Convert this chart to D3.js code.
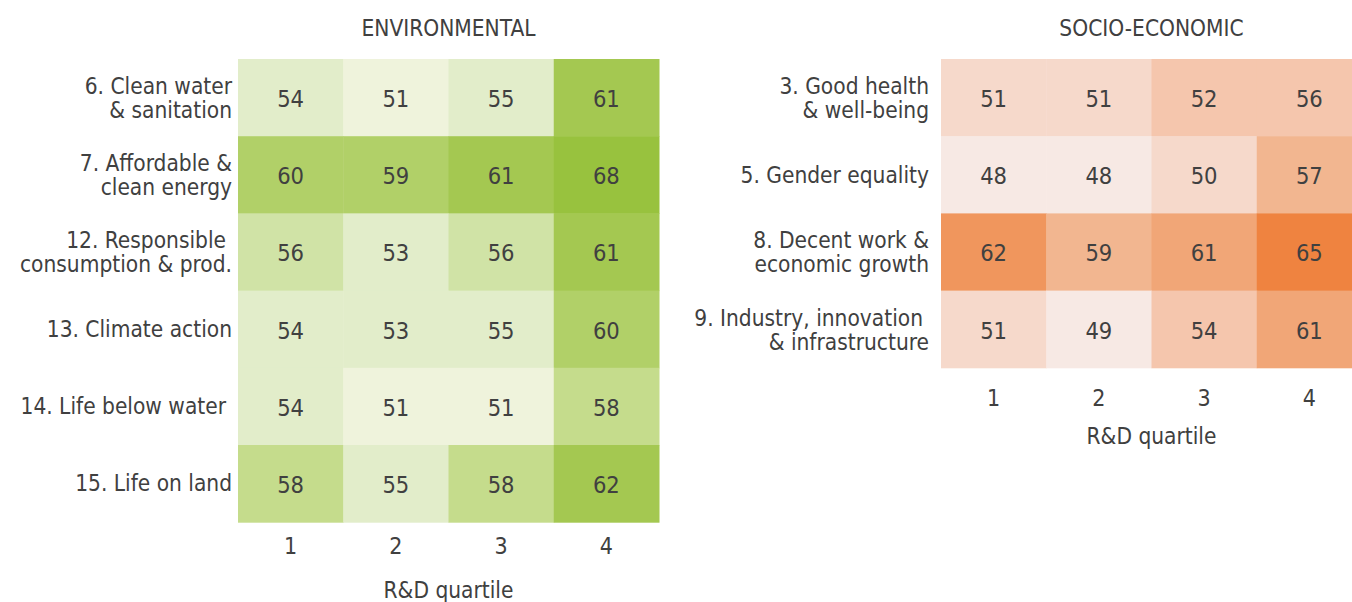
<!DOCTYPE html>
<html>
<head>
<meta charset="utf-8">
<script src="https://cdn.jsdelivr.net/npm/d3@7"></script>
<style>
  body { margin: 0; background: #fff; }
  svg text { font-family: "DejaVu Sans Condensed", "Liberation Sans Narrow", sans-serif; fill: #404040; }
</style>
</head>
<body>
<svg id="chart" width="1352" height="602"></svg>
<script>
// Quartiles of R&D intensity (columns)
const quartiles = ["1", "2", "3", "4"];

// Environmental SDGs
const envGoals = [
  ["6. Clean water", "& sanitation"],
  ["7. Affordable &", "clean energy"],
  ["12. Responsible", "consumption & prod."],
  ["13. Climate action"],
  ["14. Life below water"],
  ["15. Life on land"]
];
const envValues = [
  [54, 51, 55, 61],
  [60, 59, 61, 68],
  [56, 53, 56, 61],
  [54, 53, 55, 60],
  [54, 51, 51, 58],
  [58, 55, 58, 62]
];

// Socio-economic SDGs
const socGoals = [
  ["3. Good health", "& well-being"],
  ["5. Gender equality"],
  ["8. Decent work &", "economic growth"],
  ["9. Industry, innovation", "& infrastructure"]
];
const socValues = [
  [51, 51, 52, 56],
  [48, 48, 50, 57],
  [62, 59, 61, 65],
  [51, 49, 54, 61]
];

// Banded colour scales
const envColor = d3.scaleThreshold()
  .domain([52, 56, 57, 59, 61, 63])
  .range(["#eff3dc", "#e2edca", "#d0e3a6", "#c5dc8c", "#b1d068", "#a4c851", "#98c23e"]);
const socColor = d3.scaleThreshold()
  .domain([50, 52, 57, 60, 62, 64])
  .range(["#f7e9e4", "#f6d9cb", "#f5c6ad", "#f2b690", "#f1a677", "#f0965d", "#ef8340"]);

const svg = d3.select("#chart");
const rowH = 77.2;

function heatmap(opts) {
  const { left, top, width, goals, values, color, title, labelX, labelRows, tickY } = opts;
  const g = svg.append("g");
  const x = d3.scaleBand().domain(quartiles).range([left, left + width]).padding(0);
  const y = d3.scaleBand().domain(d3.range(goals.length)).range([top, top + rowH * goals.length]).padding(0);

  g.append("text")
    .attr("x", left + width / 2).attr("y", 36)
    .attr("text-anchor", "middle")
    .style("font-size", "22.5px")
    .text(title);

  const cells = values.flatMap((row, i) => row.map((v, j) => ({ i, j, v })));
  g.selectAll("rect.cell").data(cells).join("rect")
    .attr("class", "cell")
    .attr("x", d => x(quartiles[d.j]))
    .attr("y", d => y(d.i))
    .attr("width", x.bandwidth() + 0.5)
    .attr("height", y.bandwidth() + 0.5)
    .attr("fill", d => color(d.v));

  g.selectAll("text.val").data(cells).join("text")
    .attr("class", "val")
    .attr("x", d => x(quartiles[d.j]) + x.bandwidth() / 2)
    .attr("y", d => y(d.i) + y.bandwidth() / 2)
    .attr("dy", "0.4em")
    .attr("text-anchor", "middle")
    .style("font-size", "23.5px")
    .text(d => d.v);

  // Row labels
  goals.forEach((lines, i) => {
    const t = g.append("text")
      .attr("text-anchor", "end")
      .style("font-size", "22.5px");
    const cy = y(i) + labelRows[i];
    lines.forEach((ln, k) => {
      t.append("tspan")
        .attr("x", labelX - (opts.labelIndent && opts.labelIndent[i] && opts.labelIndent[i][k] || 0))
        .attr("y", cy + k * 24)
        .text(ln);
    });
  });

  // Column axis
  const axisY = top + rowH * goals.length;
  const axis = d3.axisBottom(x).tickSize(0).tickPadding(0);
  const ag = g.append("g").attr("transform", `translate(0,${axisY})`).call(axis);
  ag.select(".domain").remove();
  ag.selectAll("text")
    .attr("y", tickY)
    .attr("dy", "0")
    .style("font-size", "23px")
    .style("font-family", null)
    .attr("fill", "#404040");

  g.append("text")
    .attr("x", left + width / 2).attr("y", axisY + 76)
    .attr("text-anchor", "middle")
    .style("font-size", "22.5px")
    .text("R&D quartile");
}

heatmap({
  left: 238, top: 59, width: 421,
  goals: envGoals, values: envValues, color: envColor,
  title: "ENVIRONMENTAL", labelX: 232, tickY: 32,
  labelRows: [35, 35, 35, 46, 46, 46],
  labelIndent: [null, null, [6, 0], null, [6], null]
});

heatmap({
  left: 941, top: 59, width: 421,
  goals: socGoals, values: socValues, color: socColor,
  title: "SOCIO-ECONOMIC", labelX: 929, tickY: 38,
  labelRows: [35, 47, 35, 35],
  labelIndent: [null, null, null, [6, 0]]
});
</script>
</body>
</html>
